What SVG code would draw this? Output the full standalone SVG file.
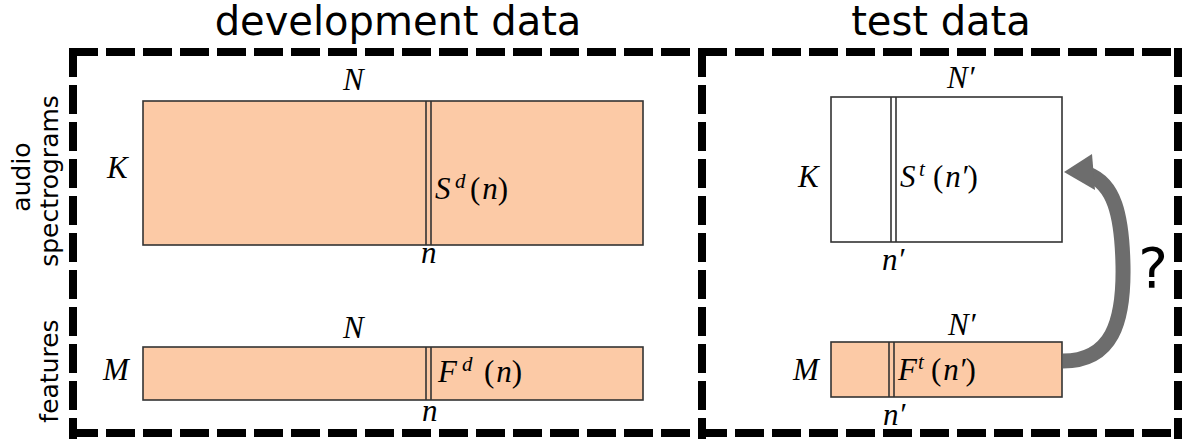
<svg xmlns="http://www.w3.org/2000/svg" width="1183" height="439" viewBox="0 0 1183 439">
<style>
.title{font-family:"DejaVu Sans",sans-serif;font-size:40px;fill:#000;text-anchor:middle}
.side{font-family:"DejaVu Sans",sans-serif;font-size:25px;fill:#000;text-anchor:middle}
.m{font-family:"Liberation Serif","DejaVu Serif",serif;font-size:31px;fill:#000}
.i{font-style:italic}
.sup{font-size:21px;font-style:italic}
.frame{fill:none;stroke:#000;stroke-width:8;stroke-dasharray:29 8}
.mat{stroke:#333;stroke-width:1.6}
.dev{fill:#fccaa6}
.tst{fill:#fff}
.col{stroke:#333;stroke-width:1.6}
</style>
<rect width="1183" height="439" fill="#fff"/>
<g id="titles">
<text class="title" x="398" y="35">development data</text>
<text class="title" x="941" y="35">test data</text>
</g>
<g id="frame">
<path class="frame" d="M69 52 H1182"/>
<path class="frame" d="M73 48 V439"/>
<path class="frame" d="M1178 48 V439"/>
<path class="frame" d="M69 433 H1182"/>
<path class="frame" d="M702 48 V439"/>
</g>
<g id="row-labels">
<text class="side" transform="translate(30,177) rotate(-90)">audio</text>
<text class="side" transform="translate(58,181) rotate(-90)">spectrograms</text>
<text class="side" transform="translate(58,371) rotate(-90)">features</text>
</g>
<g id="dev-spectrogram">
<rect class="mat dev" x="143" y="101" width="500" height="144"/>
<line class="col" x1="426" y1="101" x2="426" y2="245"/>
<line class="col" x1="431" y1="101" x2="431" y2="245"/>
<text class="m i" x="343" y="90">N</text>
<text class="m i" x="107" y="178">K</text>
<text class="m i" x="421" y="263">n</text>
<text class="m" x="435" y="199"><tspan class="i">S</tspan><tspan class="sup" x="455" y="188">d</tspan><tspan x="470" y="199">(</tspan><tspan class="i" dx="2">n</tspan>)</text>
</g>
<g id="dev-features">
<rect class="mat dev" x="143" y="347" width="500" height="53"/>
<line class="col" x1="426" y1="347" x2="426" y2="400"/>
<line class="col" x1="431" y1="347" x2="431" y2="400"/>
<text class="m i" x="343" y="338">N</text>
<text class="m i" x="103" y="380">M</text>
<text class="m i" x="422" y="421">n</text>
<text class="m" x="438" y="382"><tspan class="i">F</tspan><tspan class="sup" x="462" y="371">d</tspan><tspan x="484" y="382">(</tspan><tspan class="i" dx="2">n</tspan>)</text>
</g>
<g id="test-spectrogram">
<rect class="mat tst" x="831" y="97" width="231" height="145"/>
<line class="col" x1="891" y1="97" x2="891" y2="242"/>
<line class="col" x1="896" y1="97" x2="896" y2="242"/>
<text class="m i" x="947" y="88">N′</text>
<text class="m i" x="798" y="187">K</text>
<text class="m i" x="882" y="270">n′</text>
<text class="m" x="900" y="187"><tspan class="i">S</tspan><tspan class="sup" x="919" y="176">t</tspan><tspan x="933" y="187">(</tspan><tspan class="i" dx="2">n′</tspan>)</text>
</g>
<g id="test-features">
<rect class="mat dev" x="831" y="342" width="231" height="55"/>
<line class="col" x1="889" y1="342" x2="889" y2="397"/>
<line class="col" x1="894" y1="342" x2="894" y2="397"/>
<text class="m i" x="948" y="335">N′</text>
<text class="m i" x="793" y="380">M</text>
<text class="m i" x="883" y="425">n′</text>
<text class="m" x="898" y="380"><tspan class="i">F</tspan><tspan class="sup" x="918" y="369">t</tspan><tspan x="931" y="380">(</tspan><tspan class="i" dx="2">n′</tspan>)</text>
</g>
<g id="connectors">
<path d="M1063 361 C1112 361 1124 322 1123 266 C1122 214 1114 184 1088 174" fill="none" stroke="#6d6d6d" stroke-width="15"/>
<polygon points="1064,172 1092,154 1095,190" fill="#6d6d6d"/>
<text x="1153" y="287" font-family="DejaVu Sans, sans-serif" font-size="56" text-anchor="middle">?</text>
</g>
</svg>
